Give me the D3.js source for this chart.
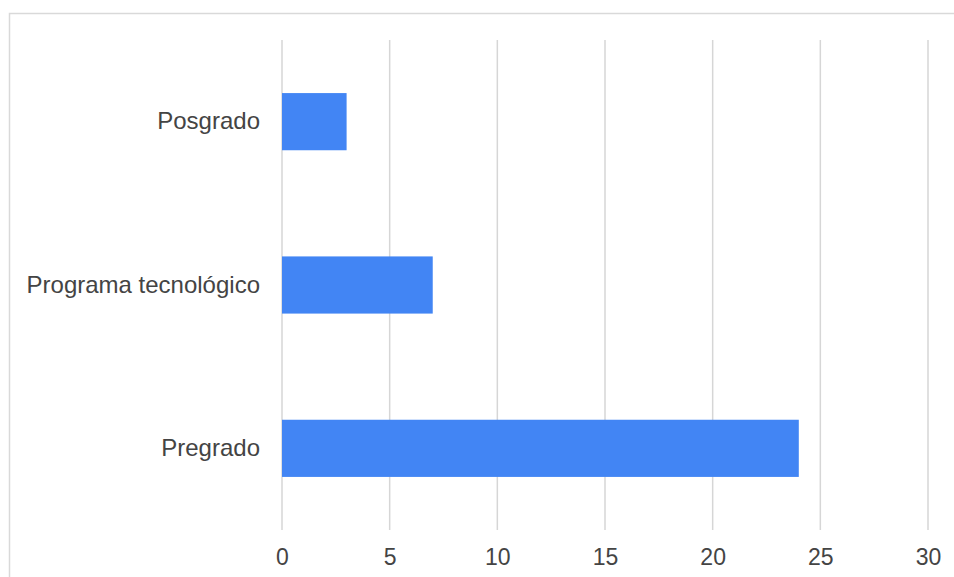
<!DOCTYPE html>
<html>
<head>
<meta charset="utf-8">
<script src="https://cdn.jsdelivr.net/npm/d3@7"></script>
<style>
  body { margin: 0; background: #fff; }
  svg { display: block; font-family: "Liberation Sans", Arial, sans-serif; }
</style>
</head>
<body>
<svg id="chart" width="954" height="577"></svg>
<script>
var categories = ["Posgrado", "Programa tecnológico", "Pregrado"];
var values = [3, 7, 24];
var xTicks = [0, 5, 10, 15, 20, 25, 30];

var width = 954,
    height = 577,
    plotLeft = 282,
    plotRight = 928,
    plotTop = 40,
    plotBottom = 530;

var svg = d3.select("#chart");

// frame around the chart area
svg.append("rect")
    .attr("x", 9.5)
    .attr("y", 13.5)
    .attr("width", width)
    .attr("height", height)
    .attr("fill", "none")
    .attr("stroke", "#d9d9d9")
    .attr("stroke-width", 1.5);

var x = d3.scaleLinear().domain([0, 30]).range([plotLeft, plotRight]);
var y = d3.scaleBand().domain(categories).range([plotTop, plotBottom])
    .paddingInner(0.65).paddingOuter(0.325);

// gridlines
svg.append("g").selectAll("line")
    .data(xTicks)
    .enter().append("line")
    .attr("x1", function(d) { return x(d); })
    .attr("x2", function(d) { return x(d); })
    .attr("y1", plotTop)
    .attr("y2", plotBottom)
    .attr("stroke", "#d6d6d6")
    .attr("stroke-width", 1.5);

// bars
svg.append("g").selectAll("rect")
    .data(values)
    .enter().append("rect")
    .attr("x", x(0))
    .attr("y", function(d, i) { return y(categories[i]); })
    .attr("width", function(d) { return x(d) - x(0); })
    .attr("height", y.bandwidth())
    .attr("fill", "#4285f4");

// x axis labels
var xAxis = d3.axisBottom(x).tickValues(xTicks).tickSize(0).tickPadding(0);
var gx = svg.append("g")
    .attr("transform", "translate(0," + (plotBottom + 19) + ")")
    .call(xAxis);
gx.select(".domain").remove();
gx.selectAll("text")
    .attr("font-size", 23)
    .attr("font-family", "Liberation Sans, Arial, sans-serif")
    .attr("fill", "#444")
    .attr("dy", "0.71em");

// y axis labels
var yAxis = d3.axisLeft(y).tickSize(0).tickPadding(0);
var gy = svg.append("g")
    .attr("transform", "translate(" + (plotLeft - 22) + ",0)")
    .call(yAxis);
gy.select(".domain").remove();
gy.selectAll("text")
    .attr("font-size", 24)
    .attr("font-family", "Liberation Sans, Arial, sans-serif")
    .attr("fill", "#444");
</script>
</body>
</html>
